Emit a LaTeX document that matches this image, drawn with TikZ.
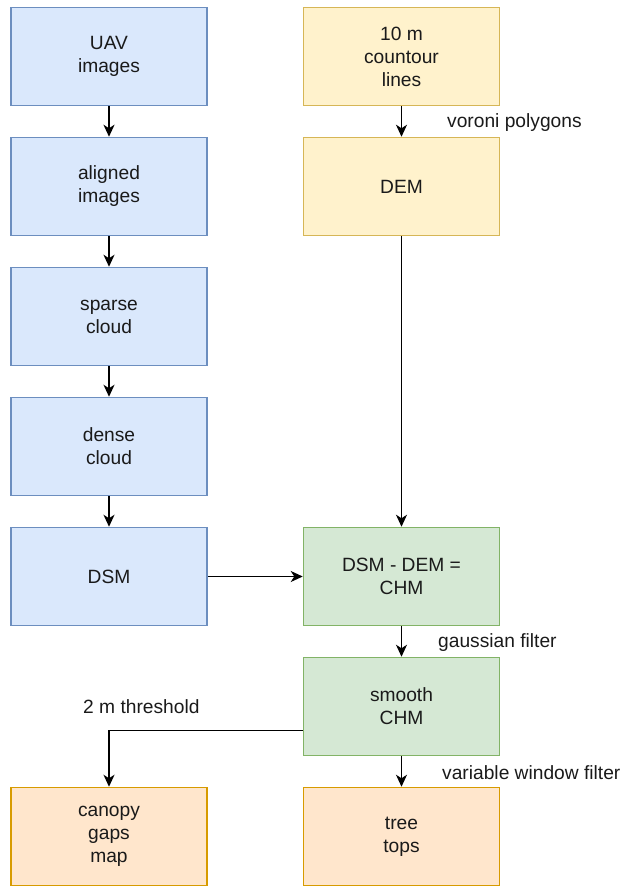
\documentclass[tikz,border=0pt]{standalone}
\usepackage{fontspec}
\setmainfont{Liberation Sans}
\usetikzlibrary{arrows.meta}
\definecolor{bfill}{HTML}{DAE8FC}\definecolor{bdraw}{HTML}{6C8EBF}
\definecolor{yfill}{HTML}{FFF2CC}\definecolor{ydraw}{HTML}{D6B656}
\definecolor{gfill}{HTML}{D5E8D4}\definecolor{gdraw}{HTML}{82B366}
\definecolor{ofill}{HTML}{FFE6CC}\definecolor{odraw}{HTML}{D79B00}
\definecolor{txt}{HTML}{1A1A1A}
\tikzset{
  box/.style={rectangle, minimum width=196pt, minimum height=98pt, line width=1.5pt,
    align=center, font=\fontsize{19.2}{23}\selectfont, text=txt, inner sep=0pt},
  bluebox/.style={box, fill=bfill, draw=bdraw},
  yellowbox/.style={box, fill=yfill, draw=ydraw},
  greenbox/.style={box, fill=gfill, draw=gdraw},
  orangebox/.style={box, fill=ofill, draw=odraw},
  lbl/.style={anchor=west, inner sep=0pt, font=\fontsize{19.2}{23}\selectfont, text=txt},
  conn/.style={line width=1.6pt, -{Stealth[length=12pt,width=11pt,inset=3.5pt]}}
}
\begin{document}
\begin{tikzpicture}[x=1pt,y=-1pt]
\useasboundingbox (0,0) rectangle (623,886);
\node[bluebox] (uav) at (109,56.5) {UAV\\images};
\node[bluebox] (aligned) at (109,186.5) {aligned\\images};
\node[bluebox] (sparse) at (109,316.5) {sparse\\cloud};
\node[bluebox] (dense) at (109,446.5) {dense\\cloud};
\node[bluebox] (dsm) at (109,576.5) {DSM};
\node[yellowbox] (contour) at (401.5,56.5) {10 m\\countour\\lines};
\node[yellowbox] (dem) at (401.5,186.5) {DEM};
\node[greenbox] (chm) at (401.5,576.5) {DSM - DEM =\\CHM};
\node[greenbox] (smooth) at (401.5,706.5) {smooth\\CHM};
\node[orangebox] (canopy) at (109,836.5) {canopy\\gaps\\map};
\node[orangebox] (tree) at (401.5,836.5) {tree\\tops};
\draw[conn] (uav) -- (aligned);
\draw[conn] (aligned) -- (sparse);
\draw[conn] (sparse) -- (dense);
\draw[conn] (dense) -- (dsm);
\draw[conn] (contour) -- (dem);
\draw[conn] (dem) -- (chm);
\draw[conn] (dsm) -- (chm);
\draw[conn] (chm) -- (smooth);
\draw[conn] (smooth) -- (tree);
\draw[conn] ([yshift=-24pt]smooth.west) -| (canopy.north);
\node[lbl] (lvor) at (447,123) {voroni polygons};
\node[lbl] (lgau) at (438,643) {gaussian filter};
\node[lbl] (lthr) at (83,707) {2 m threshold};
\node[lbl] (lvar) at (442,773) {variable window filter};
\end{tikzpicture}
\end{document}
